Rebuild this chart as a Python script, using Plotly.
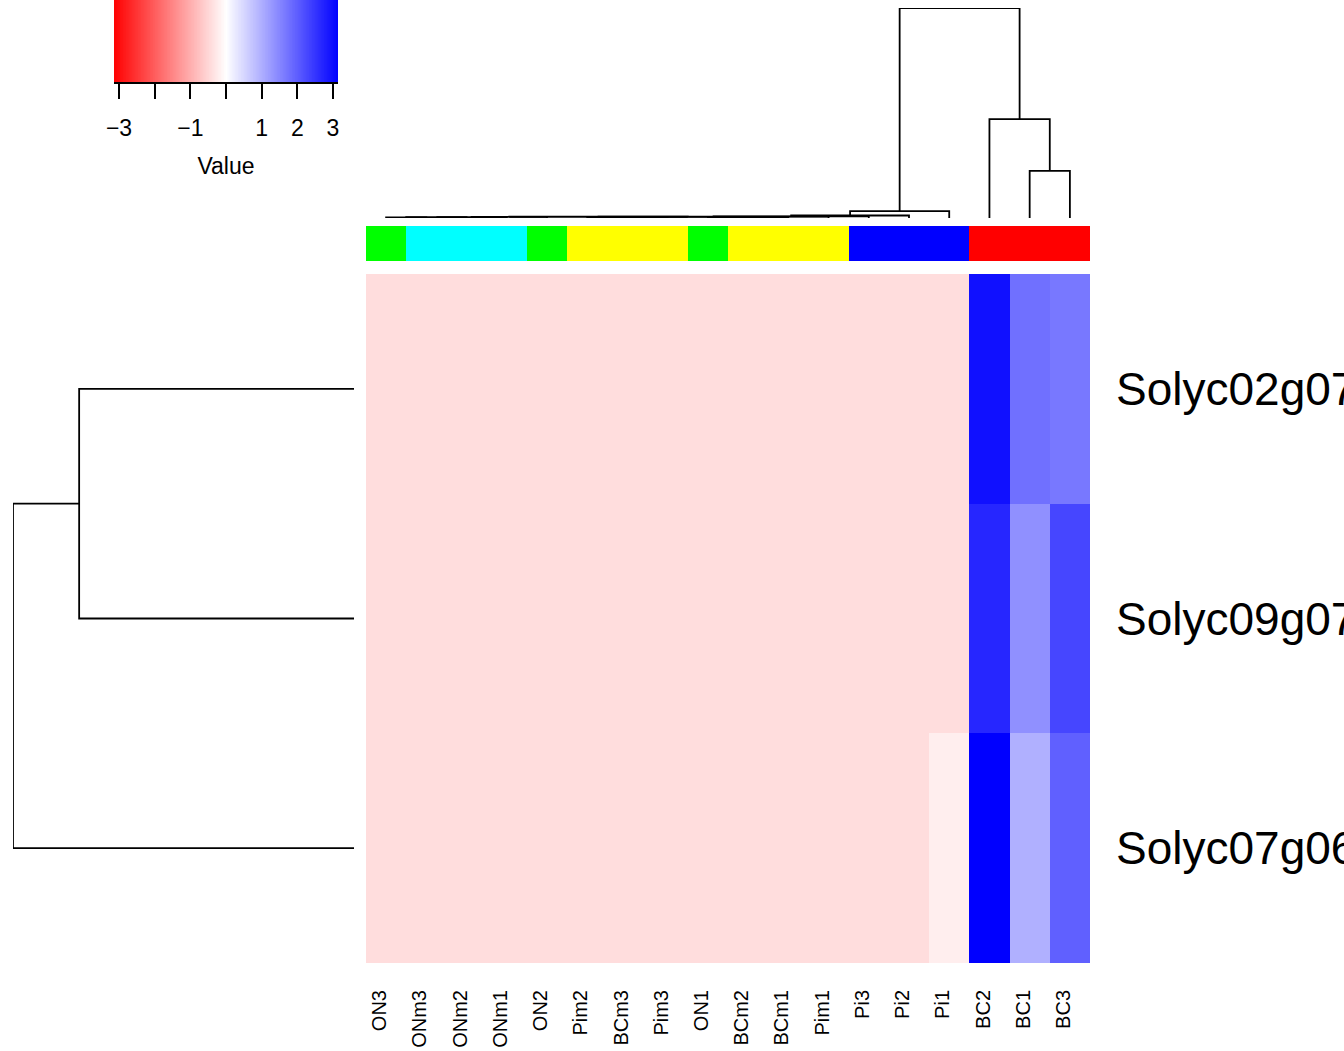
import numpy as np
import plotly.graph_objects as go

# ---------------- data ----------------
col_labels = ["ON3", "ONm3", "ONm2", "ONm1", "ON2", "Pim2", "BCm3", "Pim3", "ON1",
              "BCm2", "BCm1", "Pim1", "Pi3", "Pi2", "Pi1", "BC2", "BC1", "BC3"]
col_groups = ["ON", "ONm", "ONm", "ONm", "ON", "Pim", "BCm", "Pim", "ON",
              "BCm", "BCm", "Pim", "Pi", "Pi", "Pi", "BC", "BC", "BC"]
group_names = ["ON", "ONm", "Pim", "BCm", "Pi", "BC"]
group_colors = ["#00FF00", "#00FFFF", "#FFFF00", "#FFFF00", "#0000FF", "#FF0000"]

row_labels = ["Solyc02g07", "Solyc09g07", "Solyc07g06"]

row1_values = [-0.42, -0.42, -0.42, -0.42, -0.42, -0.42, -0.42, -0.42, -0.42,
               -0.42, -0.42, -0.42, -0.42, -0.42, -0.42, 2.95, 1.77, 1.67]
row2_values = [-0.42, -0.42, -0.42, -0.42, -0.42, -0.42, -0.42, -0.42, -0.42,
               -0.42, -0.42, -0.42, -0.42, -0.42, -0.42, 2.68, 1.37, 2.29]
row3_values = [-0.42, -0.42, -0.42, -0.42, -0.42, -0.42, -0.42, -0.42, -0.42,
               -0.42, -0.42, -0.42, -0.42, -0.42, -0.21, 3.15, 0.98, 1.96]

# column dendrogram merges (left, right, height); ints refer to earlier merges (1-based)
col_merges = [
    ("ON3", "ONm3", 0.003),
    (1, "ONm2", 0.004),
    (2, "ONm1", 0.004),
    (3, "ON2", 0.005),
    ("Pim2", "BCm3", 0.002),
    (5, "Pim3", 0.003),
    ("BCm2", "BCm1", 0.002),
    ("ON1", 7, 0.004),
    (6, 8, 0.005),
    (4, 9, 0.006),
    (10, "Pim1", 0.007),
    (11, "Pi3", 0.008),
    (12, "Pi2", 0.012),
    (13, "Pi1", 0.033),
    ("BC1", "BC3", 0.224),
    ("BC2", 15, 0.471),
    (14, 16, 1.0),
]
row_merges = [
    ("Solyc02g07", "Solyc09g07", 0.806),
    (1, "Solyc07g06", 1.0),
]

key_min, key_max = -3.14, 3.14
key_tickvals = [-3, -2, -1, 0, 1, 2, 3]
key_ticktext = ["\u22123", "", "\u22121", "", "1", "2", "3"]

colorscale = [[0.0, "#FF0000"], [0.5, "#FFFFFF"], [1.0, "#0000FF"]]
FONT = "Liberation Sans, Arial, sans-serif"

# ---------------- helpers ----------------
def dendro_segments(order, merges):
    pos = {name: i for i, name in enumerate(order)}
    nodes = []
    ps, hs = [], []

    def get(ref):
        if isinstance(ref, str):
            return pos[ref], 0.0
        return nodes[ref - 1]

    for left, right, h in merges:
        pl, hl = get(left)
        pr, hr = get(right)
        ps += [pl, pl, pr, pr, None]
        hs += [hl, h, h, hr, None]
        nodes.append(((pl + pr) / 2.0, h))
    return ps, hs


W, H = 1344, 1051
def px_x(a, b):
    return [a / W, b / W]

def px_y(top, bottom):
    return [1 - bottom / H, 1 - top / H]

fig = go.Figure()

# main heatmap
fig.add_trace(go.Heatmap(
    z=[row1_values, row2_values, row3_values],
    x=list(range(len(col_labels))), y=list(range(len(row_labels))),
    colorscale=colorscale, zmin=-3.15, zmax=3.15, showscale=False,
    xaxis="x", yaxis="y", hoverinfo="skip"))

# column side colour strip
codes = [group_names.index(g) for g in col_groups]
n = len(group_names)
strip_scale = []
for i, c in enumerate(group_colors):
    strip_scale.append([i / n, c])
    strip_scale.append([(i + 1) / n, c])
fig.add_trace(go.Heatmap(
    z=[codes], x=list(range(len(col_labels))), y=[0],
    colorscale=strip_scale, zmin=-0.5, zmax=n - 0.5, showscale=False,
    xaxis="x2", yaxis="y2", hoverinfo="skip"))

# column dendrogram
cx, cy = dendro_segments(col_labels, col_merges)
fig.add_trace(go.Scatter(x=cx, y=cy, mode="lines",
                         line=dict(color="black", width=1.8),
                         xaxis="x3", yaxis="y3", hoverinfo="skip", showlegend=False))

# row dendrogram
ry, rx = dendro_segments(row_labels, row_merges)
fig.add_trace(go.Scatter(x=rx, y=ry, mode="lines",
                         line=dict(color="black", width=1.8),
                         xaxis="x4", yaxis="y4", hoverinfo="skip", showlegend=False))

# colour key
key_steps = np.linspace(key_min, key_max, 301)
fig.add_trace(go.Heatmap(
    z=[key_steps], x=key_steps, y=[0.5],
    colorscale=colorscale, zmin=-3.15, zmax=3.15, showscale=False,
    xaxis="x5", yaxis="y5", hoverinfo="skip"))

# carrier for the column-label axis (labels sit slightly left of the column centres, as in R)
fig.add_trace(go.Scatter(x=[None], y=[None], mode="markers", xaxis="x6", yaxis="y",
                         hoverinfo="skip", showlegend=False))

hm_x = px_x(366, 1090)
hm_y = px_y(274, 963)
xr = [-0.5, len(col_labels) - 0.5]
yr = [len(row_labels) - 0.5, -0.5]
label_shift = 0.16  # in column units
xr_labels = [xr[0] + label_shift, xr[1] + label_shift]

blank = dict(showgrid=False, zeroline=False, showticklabels=False, ticks="",
             showline=False, automargin=False)

fig.update_layout(
    width=W, height=H, autosize=False, margin=dict(l=0, r=0, t=0, b=0, pad=0),
    paper_bgcolor="white", plot_bgcolor="white", showlegend=False,
    font=dict(family=FONT, color="black"),
    xaxis=dict(domain=hm_x, range=xr, anchor="y", **blank),
    xaxis6=dict(domain=hm_x, range=xr_labels, anchor="y", overlaying="x", side="bottom",
                showgrid=False, zeroline=False, automargin=False, showline=False,
                tickmode="array", tickvals=list(range(len(col_labels))), ticktext=col_labels,
                tickangle=-90, ticks="", ticklabelstandoff=22,
                tickfont=dict(size=20, family=FONT, color="black")),
    yaxis=dict(domain=hm_y, range=yr, anchor="x", side="right", showgrid=False, zeroline=False,
               automargin=False,
               tickmode="array", tickvals=list(range(len(row_labels))), ticktext=row_labels,
               ticks="", ticklabelstandoff=25,
               tickfont=dict(size=46, family=FONT, color="black")),
    xaxis2=dict(domain=hm_x, range=xr, anchor="y2", **blank),
    yaxis2=dict(domain=px_y(226, 261), range=[-0.5, 0.5], anchor="x2", **blank),
    xaxis3=dict(domain=hm_x, range=xr, anchor="y3", **blank),
    yaxis3=dict(domain=px_y(8, 218), range=[0, 1], anchor="x3", **blank),
    xaxis4=dict(domain=px_x(13, 354), range=[1, 0], anchor="y4", **blank),
    yaxis4=dict(domain=hm_y, range=yr, anchor="x4", **blank),
    xaxis5=dict(domain=px_x(114, 338), range=[key_min, key_max], anchor="y5",
                showgrid=False, zeroline=False, showline=True, linecolor="black", linewidth=1.5,
                automargin=False,
                tickmode="array", tickvals=key_tickvals, ticktext=key_ticktext,
                ticks="outside", ticklen=15, tickwidth=1.5, tickcolor="black",
                ticklabelstandoff=10,
                tickfont=dict(size=23, family=FONT, color="black"),
                title=dict(text="Value", font=dict(size=23, family=FONT, color="black"), standoff=18)),
    yaxis5=dict(domain=px_y(0, 82), range=[0, 1], anchor="x5", **blank),
)

post = ("document.body.style.margin='0';document.body.style.padding='0';"
        "document.body.style.overflow='hidden';"
        "document.documentElement.style.overflow='hidden';"
        "var gd=document.getElementById('{plot_id}');"
        "Plotly.relayout(gd,{width:1344,height:1051});")

fig.write_html("out.html", config={"responsive": False, "displayModeBar": False},
               post_script=post)
